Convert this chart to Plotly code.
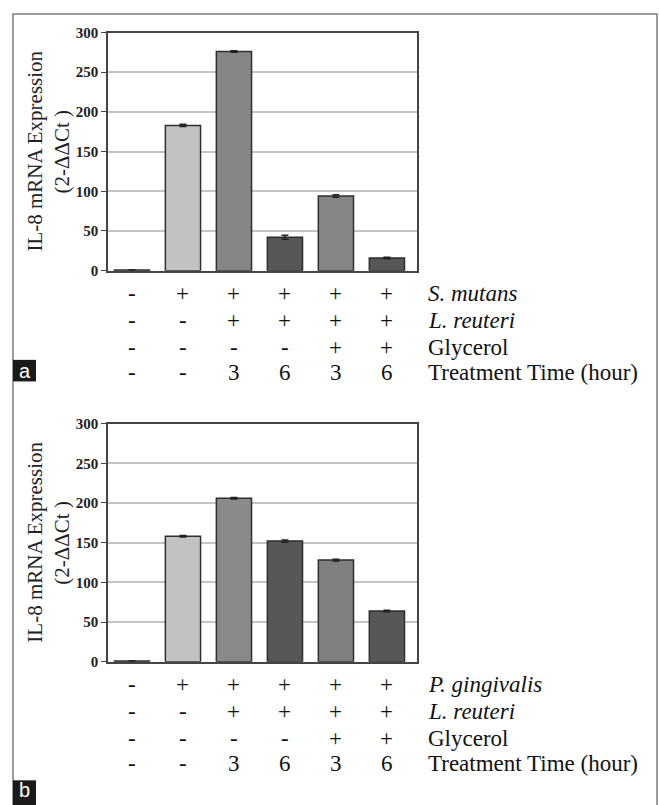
import plotly.graph_objects as go

# ---------------- data ----------------
groups = ["Control", "Pathogen", "L.r 3h", "L.r 6h", "L.r+Gly 3h", "L.r+Gly 6h"]
values_a = [1, 183, 276, 42, 94, 16]
errors_a = [0.3, 1.5, 1.0, 2.5, 1.5, 1.0]
values_b = [1, 158, 206, 152, 128, 64]
errors_b = [0.3, 1.0, 1.0, 1.5, 1.0, 1.0]
bar_colors_a = ["#4d4d4d", "#c2c2c2", "#868686", "#575757", "#868686", "#575757"]
bar_colors_b = ["#4d4d4d", "#c2c2c2", "#8a8a8a", "#575757", "#808080", "#575757"]

y_ticks = [0, 50, 100, 150, 200, 250, 300]

table_a = [
    ["-", "+", "+", "+", "+", "+"],
    ["-", "-", "+", "+", "+", "+"],
    ["-", "-", "-", "-", "+", "+"],
    ["-", "-", "3", "6", "3", "6"],
]
row_labels_a = ["<i>S. mutans</i>", "<i>L. reuteri</i>", "Glycerol", "Treatment Time (hour)"]
table_b = table_a
row_labels_b = ["<i>P. gingivalis</i>", "<i>L. reuteri</i>", "Glycerol", "Treatment Time (hour)"]

W, H = 659, 805
SERIF = "Liberation Serif"

def px_y(p):
    return 1 - p / H

def px_x(p):
    return p / W

xs = list(range(len(groups)))

fig = go.Figure()
for vals, errs, cols, xa, ya in [
    (values_a, errors_a, bar_colors_a, "x", "y"),
    (values_b, errors_b, bar_colors_b, "x2", "y2"),
]:
    fig.add_trace(go.Bar(
        x=xs, y=vals, width=0.69,
        marker=dict(color=cols, line=dict(color="#2e2e2e", width=1.5)),
        error_y=dict(type="data", array=errs, visible=True, color="#222222",
                     thickness=1.5, width=3.5),
        xaxis=xa, yaxis=ya, showlegend=False, hoverinfo="skip",
    ))

xdom = [px_x(108), px_x(417)]
ydom_a = [px_y(268), px_y(25)]
ydom_b = [px_y(667), px_y(424)]

xaxis_common = dict(domain=xdom, range=[-0.47, 5.59], showticklabels=False,
                    ticks="", showgrid=False, zeroline=False,
                    showline=True, linecolor="#444444", linewidth=1.5, mirror=True)
yaxis_common = dict(range=[0, 300], tickvals=y_ticks,
                    ticktext=[f"<b>{t}</b>" for t in y_ticks],
                    ticks="outside", ticklen=5,
                    tickcolor="#444444", tickwidth=1.2,
                    tickfont=dict(family=SERIF, size=15, color="#222222"),
                    showgrid=True, gridcolor="#c4c4c4", gridwidth=2,
                    zeroline=False, showline=True, linecolor="#444444",
                    linewidth=1.5, mirror=True)

fig.update_layout(
    width=W, height=H, margin=dict(l=0, r=0, t=0, b=0),
    paper_bgcolor="white", plot_bgcolor="white",
    bargap=0.3,
    xaxis=dict(**xaxis_common, anchor="y"),
    yaxis=dict(**yaxis_common, domain=ydom_a, anchor="x"),
    xaxis2=dict(**xaxis_common, anchor="y2"),
    yaxis2=dict(**yaxis_common, domain=ydom_b, anchor="x2"),
)

annotations = []
# y-axis titles
for yc in [px_y((25 + 268) / 2), px_y((424 + 667) / 2)]:
    annotations.append(dict(text="IL-8 mRNA Expression", x=px_x(35), y=yc,
                            xref="paper", yref="paper", showarrow=False,
                            textangle=-90, xanchor="center", yanchor="middle",
                            font=dict(family=SERIF, size=21, color="#222222")))
    annotations.append(dict(text="(2-ΔΔCt )", x=px_x(62), y=yc,
                            xref="paper", yref="paper", showarrow=False,
                            textangle=-90, xanchor="center", yanchor="middle",
                            font=dict(family=SERIF, size=21, color="#222222")))

# tables
for table, labels, rows_px, xref in [
    (table_a, row_labels_a, [291, 319, 346, 372], "x"),
    (table_b, row_labels_b, [690, 718, 745, 771], "x2"),
]:
    for r, (row, lab) in enumerate(zip(table, labels)):
        for c, val in enumerate(row):
            annotations.append(dict(text=val, x=xs[c], y=px_y(rows_px[r]),
                                    xref=xref, yref="paper", showarrow=False,
                                    xanchor="center", yanchor="middle",
                                    font=dict(family=SERIF, size=23, color="#111111")))
        annotations.append(dict(text=lab, x=px_x(426), y=px_y(rows_px[r]),
                                xref="paper", yref="paper", showarrow=False,
                                xanchor="left", yanchor="middle",
                                font=dict(family=SERIF, size=23, color="#111111")))

# panel labels
for lab, top, bot in [("a", 359, 381), ("b", 788, 808)]:
    annotations.append(dict(text=lab, x=px_x(24.5), y=px_y((top + bot) / 2),
                            xref="paper", yref="paper", showarrow=False,
                            xanchor="center", yanchor="middle",
                            font=dict(family="Liberation Sans", size=20, color="white")))

shapes = [
    dict(type="rect", xref="paper", yref="paper",
         x0=px_x(13), x1=px_x(657), y0=-0.02, y1=px_y(6),
         line=dict(color="#7a7a7a", width=1.5), fillcolor="rgba(0,0,0,0)", layer="below"),
    dict(type="rect", xref="paper", yref="paper",
         x0=px_x(13), x1=px_x(36), y0=px_y(381), y1=px_y(359),
         line=dict(width=0), fillcolor="#1a1a1a"),
    dict(type="rect", xref="paper", yref="paper",
         x0=px_x(13), x1=px_x(36), y0=-0.02, y1=px_y(788),
         line=dict(width=0), fillcolor="#1a1a1a"),
]

fig.update_layout(annotations=annotations, shapes=shapes)
fig.write_html(
    "out.html",
    config={"displayModeBar": False},
    post_script="document.body.style.margin='0';document.body.style.overflow='hidden';",
)
